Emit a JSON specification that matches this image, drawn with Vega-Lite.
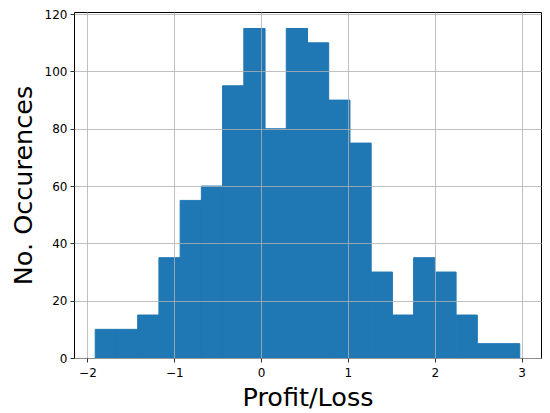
{
  "$schema": "https://vega.github.io/schema/vega-lite/v6.json",
  "width": 467,
  "height": 346,
  "autosize": {"type": "none"},
  "padding": {"left": 74, "top": 12, "right": 9, "bottom": 55},
  "background": "white",
  "config": {
    "font": "DejaVu Sans",
    "view": {"stroke": "black", "strokeWidth": 1}
  },
  "data": {
    "values": [
      {"x0": -1.9105, "x1": -1.666, "count": 10},
      {"x0": -1.666, "x1": -1.4215, "count": 10},
      {"x0": -1.4215, "x1": -1.177, "count": 15},
      {"x0": -1.177, "x1": -0.9325, "count": 35},
      {"x0": -0.9325, "x1": -0.688, "count": 55},
      {"x0": -0.688, "x1": -0.4435, "count": 60},
      {"x0": -0.4435, "x1": -0.199, "count": 95},
      {"x0": -0.199, "x1": 0.0455, "count": 115},
      {"x0": 0.0455, "x1": 0.29, "count": 80},
      {"x0": 0.29, "x1": 0.5345, "count": 115},
      {"x0": 0.5345, "x1": 0.779, "count": 110},
      {"x0": 0.779, "x1": 1.0235, "count": 90},
      {"x0": 1.0235, "x1": 1.268, "count": 75},
      {"x0": 1.268, "x1": 1.5125, "count": 30},
      {"x0": 1.5125, "x1": 1.757, "count": 15},
      {"x0": 1.757, "x1": 2.0015, "count": 35},
      {"x0": 2.0015, "x1": 2.246, "count": 30},
      {"x0": 2.246, "x1": 2.4905, "count": 15},
      {"x0": 2.4905, "x1": 2.735, "count": 5},
      {"x0": 2.735, "x1": 2.9795, "count": 5}
    ]
  },
  "mark": {"type": "bar", "fill": "#1f77b4", "stroke": "#1f77b4", "strokeWidth": 1, "opacity": 1, "fillOpacity": 1, "strokeOpacity": 1},
  "encoding": {
    "x": {
      "field": "x0",
      "type": "quantitative",
      "scale": {"domain": [-2.155, 3.224], "nice": false, "zero": false},
      "axis": {
        "title": "Profit/Loss",
        "values": [-2, -1, 0, 1, 2, 3],
        "format": "d",
        "zindex": 1,
        "grid": true,
        "gridColor": "#b0b0b0",
        "gridWidth": 0.8,
        "domain": false,
        "tickColor": "black",
        "tickSize": 4,
        "tickWidth": 0.8,
        "labelFontSize": 12,
        "labelColor": "black",
        "labelPadding": 5,
        "titleFontSize": 25.5,
        "titleFontWeight": "normal",
        "titleColor": "black",
        "titlePadding": 7
      }
    },
    "x2": {"field": "x1"},
    "y": {
      "field": "count",
      "type": "quantitative",
      "scale": {"domain": [0, 120.75], "nice": false},
      "axis": {
        "title": "No. Occurences",
        "values": [0, 20, 40, 60, 80, 100, 120],
        "zindex": 1,
        "grid": true,
        "gridColor": "#b0b0b0",
        "gridWidth": 0.8,
        "domain": false,
        "tickColor": "black",
        "tickSize": 4,
        "tickWidth": 0.8,
        "labelFontSize": 12,
        "labelColor": "black",
        "labelPadding": 3,
        "titleFontSize": 25.5,
        "titleFontWeight": "normal",
        "titleColor": "black",
        "titlePadding": 8
      }
    },
    "y2": {"datum": 0}
  }
}
